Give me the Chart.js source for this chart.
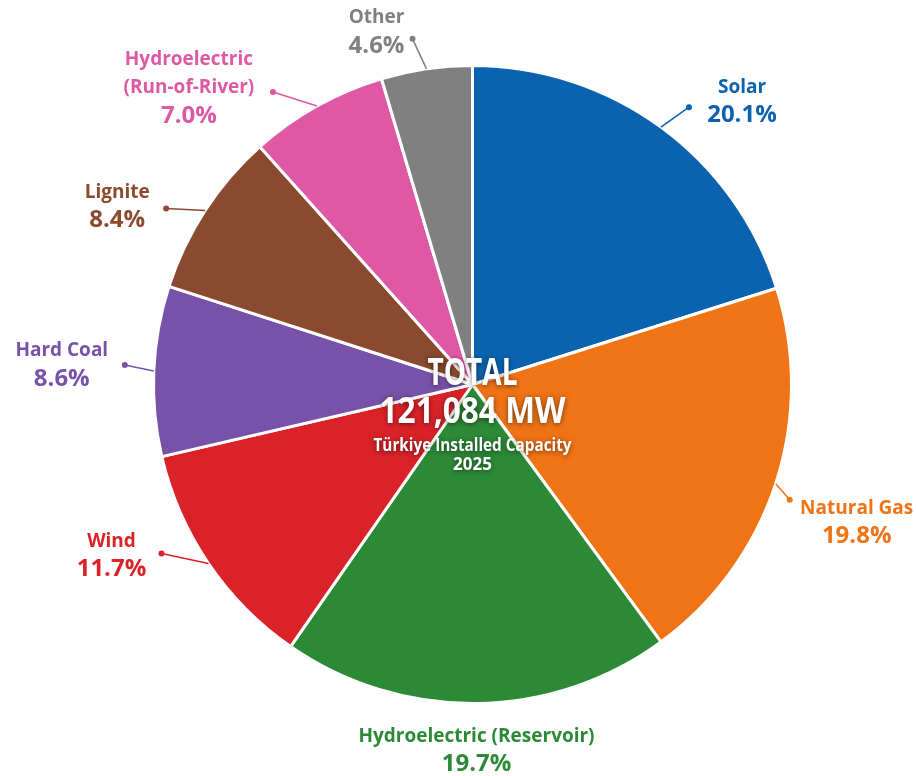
<!DOCTYPE html>
<html>
<head>
<meta charset="utf-8">
<script src="https://cdn.jsdelivr.net/npm/chart.js@4.4.1/dist/chart.umd.min.js"></script>
<style>
  html, body { margin: 0; padding: 0; background: #ffffff; }
  #wrap { width: 916px; height: 776px; position: relative; }
</style>
</head>
<body>
<div id="wrap"><canvas id="c" width="916" height="776"></canvas></div>
<script>
// ---- Data ----
const categories = ['Solar', 'Natural Gas', 'Hydroelectric (Reservoir)', 'Wind', 'Hard Coal', 'Lignite', 'Hydroelectric (Run-of-River)', 'Other'];
const displayNames = [['Solar'], ['Natural Gas'], ['Hydroelectric (Reservoir)'], ['Wind'], ['Hard Coal'], ['Lignite'], ['Hydroelectric', '(Run-of-River)'], ['Other']];
const shares = [20.1, 19.8, 19.7, 11.7, 8.6, 8.4, 7.0, 4.6];
const colors = ['#0B62AF', '#F07316', '#2C8A37', '#D92329', '#7852A9', '#8A4A2F', '#DE58A4', '#808080'];
const totalTitle = 'TOTAL';
const totalValue = '121,084 MW';
const subtitle = 'Türkiye Installed Capacity';
const year = '2025';

// ---- Label placement (offsets from each slice's outer edge point) ----
const labelLayout = [
  { dot: [28, -20], text: [81, -26] },
  { dot: [14, 16], text: [81, 39] },
  { dot: null, text: [0, 47] },
  { dot: [-47, -10], text: [-97, -8] },
  { dot: [-29, -6], text: [-92, -6] },
  { dot: [-39, -2], text: [-88, -4] },
  { dot: [-44, -14], text: [-128, -18] },
  { dot: [-14, -30], text: [-50, -37] }
];

const FONT = '"Open Sans", "DejaVu Sans", sans-serif';

const outsideLabels = {
  id: 'outsideLabels',
  afterDatasetsDraw(chart) {
    const ctx = chart.ctx;
    const meta = chart.getDatasetMeta(0);
    meta.data.forEach((arc, i) => {
      const p = arc.getProps(['x', 'y', 'startAngle', 'endAngle', 'outerRadius'], true);
      const mid = (p.startAngle + p.endAngle) / 2;
      const ex = p.x + Math.cos(mid) * p.outerRadius;
      const ey = p.y + Math.sin(mid) * p.outerRadius;
      const lay = labelLayout[i];
      const col = colors[i];
      ctx.save();
      if (lay.dot) {
        const dx = ex + lay.dot[0], dy = ey + lay.dot[1];
        ctx.strokeStyle = col;
        ctx.lineWidth = 1.5;
        ctx.beginPath();
        ctx.moveTo(ex, ey);
        ctx.lineTo(dx, dy);
        ctx.stroke();
        ctx.fillStyle = col;
        ctx.beginPath();
        ctx.arc(dx, dy, 3, 0, Math.PI * 2);
        ctx.fill();
      }
      const tx = ex + lay.text[0], ty = ey + lay.text[1];
      const names = displayNames[i];
      const lines = names.map(n => ({ t: n, f: 'bold 19px ' + FONT }));
      lines.push({ t: shares[i].toFixed(1) + '%', f: 'bold 24px ' + FONT });
      const spacing = 28;
      const startY = ty - (lines.length - 1) * spacing / 2;
      ctx.fillStyle = col;
      ctx.textAlign = 'center';
      ctx.textBaseline = 'middle';
      lines.forEach((ln, k) => {
        ctx.font = ln.f;
        ctx.fillText(ln.t, tx, startY + k * spacing);
      });
      ctx.restore();
    });

    // center text
    const c = meta.data[0];
    const cx = c.x, cy = c.y;
    ctx.save();
    ctx.textAlign = 'center';
    ctx.textBaseline = 'alphabetic';
    ctx.fillStyle = '#ffffff';
    ctx.shadowColor = 'rgba(0,0,0,0.55)';
    ctx.shadowBlur = 5;
    ctx.shadowOffsetX = 0;
    ctx.shadowOffsetY = 1;
    ctx.font = 'bold 37px ' + FONT;
    ctx.fillText(totalTitle, cx, cy + 0.5, 90);
    ctx.font = 'bold 36px ' + FONT;
    ctx.fillText(totalValue, cx, cy + 38.5, 186);
    ctx.font = 'bold 18px ' + FONT;
    ctx.fillText(subtitle, cx, cy + 66.5, 198);
    ctx.font = 'bold 17px ' + FONT;
    ctx.fillText(year, cx, cy + 85.5, 42);
    ctx.restore();
  }
};

new Chart(document.getElementById('c'), {
  type: 'pie',
  data: {
    labels: categories,
    datasets: [{
      data: shares,
      backgroundColor: colors,
      borderColor: '#ffffff',
      borderWidth: 3,
      hoverBorderWidth: 3,
      hoverOffset: 0
    }]
  },
  options: {
    responsive: false,
    animation: false,
    events: [],
    layout: { padding: { left: 152, right: 123, top: 64, bottom: 71 } },
    plugins: {
      legend: { display: false },
      tooltip: { enabled: false }
    }
  },
  plugins: [outsideLabels]
});
</script>
</body>
</html>
